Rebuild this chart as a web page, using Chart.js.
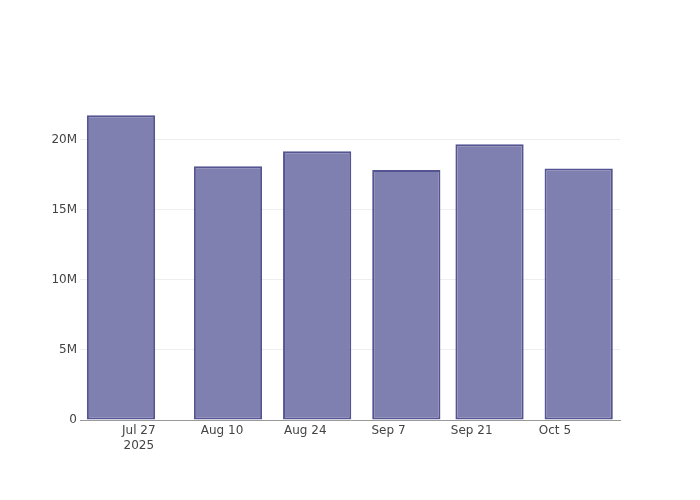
<!DOCTYPE html>
<html>
<head>
<meta charset="utf-8">
<script src="https://cdn.jsdelivr.net/npm/chart.js@4"></script>
<style>
  html, body { margin: 0; padding: 0; background: #fff; }
  #wrap { width: 700px; height: 500px; }
</style>
</head>
<body>
<div id="wrap"><canvas id="myChart" width="700" height="500"></canvas></div>
<script>
// days counted from Jul 27 2025
const barDays = [-3, 15, 30, 45, 59, 74];
const barValues = [21.76e6, 18.12e6, 19.19e6, 17.86e6, 19.69e6, 17.97e6];
const tickDays = [0, 14, 28, 42, 56, 70];
const tickLabels = [['Jul 27', '2025'], 'Aug 10', 'Aug 24', 'Sep 7', 'Sep 21', 'Oct 5'];
const yTicks = [0, 5e6, 10e6, 15e6, 20e6];

const ctx = document.getElementById('myChart').getContext('2d');
const myChart = new Chart(ctx, {
    type: 'bar',
    data: {
        datasets: [{
            data: barDays.map((d, i) => ({ x: d, y: barValues[i] })),
            backgroundColor: 'rgb(127, 127, 176)',
            borderColor: 'rgb(84, 84, 146)',
            borderWidth: 2,
            borderSkipped: false,
            barPercentage: 0.82,
            categoryPercentage: 1
        }]
    },
    options: {
        responsive: false,
        animation: false,
        layout: { padding: { left: 0, top: 100, right: 80, bottom: 0 } },
        plugins: { legend: { display: false }, tooltip: { enabled: false } },
        scales: {
            x: {
                type: 'linear',
                offset: false,
                min: -9.9,
                max: 80.95,
                afterBuildTicks: (scale) => { scale.ticks = tickDays.map(v => ({ value: v })); },
                afterFit: (scale) => { scale.height = 80; },
                grid: { display: false, drawTicks: false, offset: false },
                border: { display: true, color: '#999', width: 1 },
                ticks: {
                    padding: 3,
                    maxRotation: 0,
                    autoSkip: false,
                    color: '#444',
                    font: { family: 'DejaVu Sans', size: 12, lineHeight: 1.25 },
                    callback: (v) => tickLabels[tickDays.indexOf(v)]
                }
            },
            y: {
                min: 0,
                max: 22.857e6,
                afterBuildTicks: (scale) => { scale.ticks = yTicks.map(v => ({ value: v })); },
                afterFit: (scale) => { scale.width = 80; },
                grid: {
                    drawTicks: false,
                    color: (c) => c.tick && c.tick.value === 0 ? 'rgba(0,0,0,0)' : '#eeeeee'
                },
                border: { display: false },
                ticks: {
                    padding: 3,
                    color: '#444',
                    font: { family: 'DejaVu Sans', size: 12 },
                    callback: (v) => v === 0 ? '0' : (v / 1e6) + 'M'
                }
            }
        }
    }
});
</script>
</body>
</html>
